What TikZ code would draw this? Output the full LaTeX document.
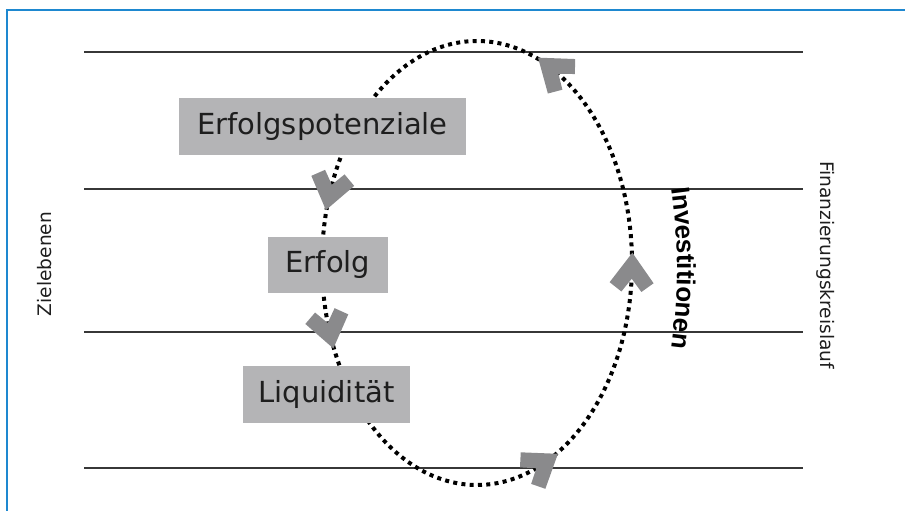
\documentclass[tikz,border=0pt]{standalone}
\usepackage{fontspec}
\setmainfont{DejaVu Sans}
\newfontfamily\invfont{Liberation Sans}
\usepackage{tikz}
\usetikzlibrary{positioning,calc,decorations.text}
\definecolor{frameblue}{RGB}{30,136,208}
\definecolor{boxgray}{RGB}{180,180,182}
\definecolor{chevgray}{RGB}{138,138,140}
\definecolor{linegray}{RGB}{55,55,55}
\definecolor{textdark}{RGB}{30,30,30}

\tikzset{
    chevron/.pic={\fill[chevgray] (18,0) -- (-12,22) -- (-21,10) -- (-8,0) -- (-21,-10) -- (-12,-22) -- cycle;}
}

\begin{document}
\begin{tikzpicture}[x=1pt, y=1pt,
    box/.style={rectangle, fill=boxgray, inner sep=0pt, font=\fontsize{29}{34}\selectfont, text=textdark},
    level/.style={draw=linegray, line width=1.8pt},
    side/.style={font=\fontsize{18.6}{22}\selectfont, text=textdark},
    kreis/.style={line width=4pt, dash pattern=on 4pt off 4.3pt},
    rahmen/.style={draw=frameblue, line width=1.5pt}
]
    \useasboundingbox (0,0) rectangle (905,511);
    \draw[rahmen] (7,0) -- (7,501) -- (905,501);

    % Zielebenen
    \draw[level] (84,459) -- (803,459);
    \draw[level] (84,322) -- (803,322);
    \draw[level] (84,179) -- (803,179);
    \draw[level] (84,43) -- (803,43);

    % Kreislauf
    \coordinate (ctr) at (477,248);
    \draw[kreis] (ctr) ellipse [x radius=155, y radius=222];

    \node[box, minimum width=287pt, minimum height=57pt] (potenziale) at (322.5,384.5) {Erfolgspotenziale};
    \node[box, minimum width=120pt, minimum height=56pt] (erfolg) at (328,246) {Erfolg};
    \node[box, minimum width=167pt, minimum height=57pt] (liquiditaet) at (326.5,116.5) {Liquidität};

    \pic[rotate=141.6] at ($(ctr)+(61:155 and 222)$) {chevron};
    \pic[rotate=88.6] at ($(ctr)+(-2:155 and 222)$) {chevron};
    \pic[rotate=256.8] at ($(ctr)+(161.5:155 and 222)$) {chevron};
    \pic[rotate=282.6] at ($(ctr)+(197.8:155 and 222)$) {chevron};
    \pic[rotate=34] at ($(ctr)+(-64.8:155 and 222)$) {chevron};

    \path[decorate, decoration={text along path, text align=center,
        text={|\invfont\bfseries\fontsize{26}{30}\selectfont|Investitionen}}]
        (77,243) ++(10:600) arc[start angle=10, end angle=-10, radius=600];

    \node[side, rotate=90] (ziel) at (45,247) {Zielebenen};
    \node[side, rotate=-90] (kreislauf) at (826,246) {Finanzierungskreislauf};
\end{tikzpicture}
\end{document}
